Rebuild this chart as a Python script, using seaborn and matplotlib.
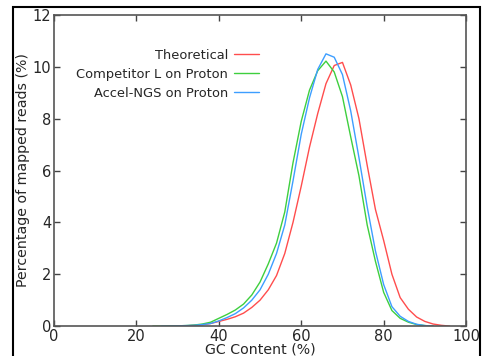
import pandas as pd
import matplotlib.pyplot as plt
import seaborn as sns
from matplotlib.patches import Rectangle

# GC content bins (%) and percentage of mapped reads for each series
gc_theoretical = [30, 32, 34, 36, 38, 40, 42, 44, 46, 48, 50, 52, 54, 56, 58, 60,
                  62, 64, 66, 68, 70, 72, 74, 76, 78, 80, 82, 84, 86, 88, 90, 92, 94, 96]
theoretical = [0.0, 0.01, 0.03, 0.05, 0.1, 0.18, 0.26, 0.36, 0.5, 0.72, 1.0, 1.4, 1.95, 2.8, 4.0, 5.4,
               6.9, 8.2, 9.35, 10.05, 10.17, 9.3, 8.0, 6.2, 4.5, 3.3, 2.0, 1.1, 0.65, 0.35, 0.18, 0.08, 0.03, 0.0]

gc_competitor = [24, 26, 28, 30, 32, 34, 36, 38, 40, 42, 44, 46, 48, 50, 52, 54, 56, 58,
                 60, 62, 64, 66, 68, 70, 72, 74, 76, 78, 80, 82, 84, 86, 88, 90, 92]
competitor = [0.0, 0.0, 0.01, 0.01, 0.02, 0.04, 0.08, 0.15, 0.3, 0.45, 0.62, 0.85, 1.2, 1.7, 2.4, 3.2, 4.4, 6.3,
              7.9, 9.1, 9.85, 10.22, 9.8, 8.85, 7.3, 5.8, 3.9, 2.5, 1.3, 0.6, 0.3, 0.15, 0.06, 0.02, 0.0]

gc_accel = [26, 28, 30, 32, 34, 36, 38, 40, 42, 44, 46, 48, 50, 52, 54, 56, 58,
            60, 62, 64, 66, 68, 70, 72, 74, 76, 78, 80, 82, 84, 86, 88, 90, 92]
accel = [0.0, 0.0, 0.01, 0.02, 0.03, 0.06, 0.1, 0.2, 0.33, 0.48, 0.7, 1.0, 1.4, 2.0, 2.8, 3.9, 5.6,
         7.4, 8.8, 9.9, 10.5, 10.37, 9.7, 8.3, 6.5, 4.6, 2.9, 1.6, 0.75, 0.38, 0.18, 0.07, 0.02, 0.0]

labels = ["Theoretical", "Competitor L on Proton", "Accel-NGS on Proton"]
colors = ["#ff4d4d", "#3ecf3e", "#3d9eff"]

df = pd.concat([
    pd.DataFrame({"gc": gc_theoretical, "pct": theoretical, "series": labels[0]}),
    pd.DataFrame({"gc": gc_competitor, "pct": competitor, "series": labels[1]}),
    pd.DataFrame({"gc": gc_accel, "pct": accel, "series": labels[2]}),
])

sns.set_style("ticks")
plt.rcParams['font.family'] = ['DejaVu Sans']

fig = plt.figure(figsize=(4.82, 3.56), dpi=100)
ax = fig.add_axes([0.112, 0.084, 0.855, 0.874])

sns.lineplot(data=df, x="gc", y="pct", hue="series", hue_order=labels,
             palette=dict(zip(labels, colors)), linewidth=1.0, ax=ax, sort=False)

ax.set_xlim(0, 100)
ax.set_ylim(0, 12)
ax.set_xticks(range(0, 101, 20))
ax.set_yticks(range(0, 13, 2))
ax.set_xlabel("GC Content (%)", fontsize=10.2, labelpad=-1)
ax.set_ylabel("Percentage of mapped reads (%)", fontsize=10.2, labelpad=2)
ax.tick_params(direction="in", top=True, right=True, length=4, width=1,
               labelsize=10.5, color="#444444", pad=2)
for s in ax.spines.values():
    s.set_color("#555555")
    s.set_linewidth(1.2)

ax.legend(loc="upper right", bbox_to_anchor=(0.51, 0.908), frameon=False,
          markerfirst=False, fontsize=9.4, handlelength=1.9,
          handletextpad=0.45, labelspacing=0.45, borderaxespad=0)

# outer frame around the figure
fig.patches.append(Rectangle((0.027, -0.05), 0.969, 1.03, transform=fig.transFigure,
                             fill=False, edgecolor="black", linewidth=1.5))

fig.savefig("out.png", dpi=100)
